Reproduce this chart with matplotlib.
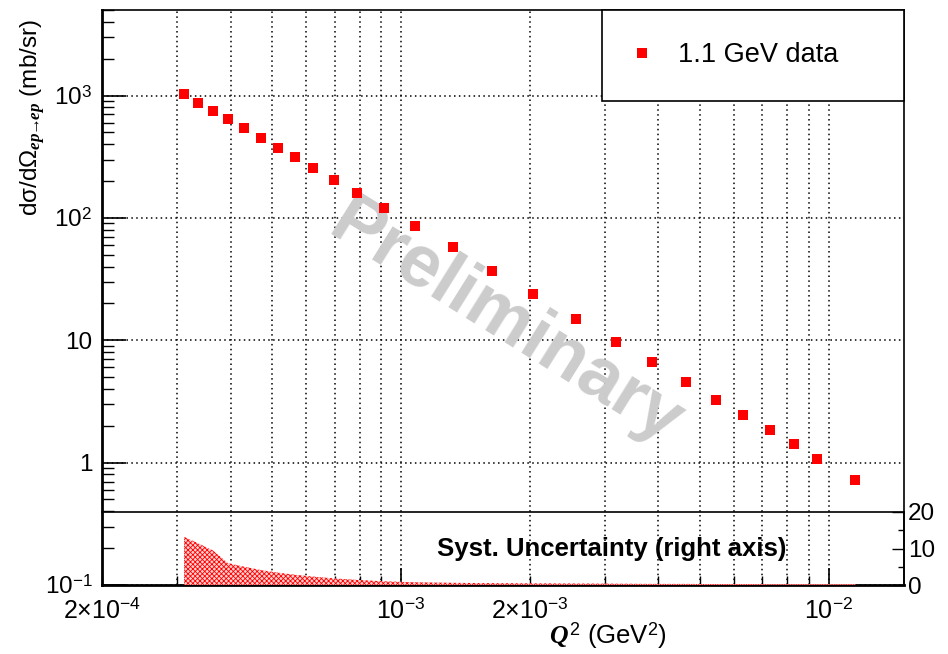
import numpy as np
import matplotlib
matplotlib.use("Agg")
import matplotlib.pyplot as plt
from matplotlib.ticker import FixedLocator, FixedFormatter, FuncFormatter, NullFormatter

plt.rcParams['font.family'] = ['Liberation Sans', 'DejaVu Sans']
plt.rcParams['mathtext.fontset'] = 'custom'
plt.rcParams['mathtext.rm'] = 'Liberation Sans'
plt.rcParams['mathtext.it'] = 'Liberation Serif:italic:bold'
plt.rcParams['mathtext.bf'] = 'Liberation Sans:bold'
plt.rcParams['hatch.linewidth'] = 0.6

# data
q2 = [3.11e-4, 3.36e-4, 3.64e-4, 3.94e-4, 4.30e-4, 4.70e-4, 5.15e-4, 5.65e-4,
      6.24e-4, 6.98e-4, 7.90e-4, 9.12e-4, 1.076e-3, 1.32e-3, 1.633e-3, 2.04e-3,
      2.57e-3, 3.19e-3, 3.87e-3, 4.63e-3, 5.44e-3, 6.32e-3, 7.28e-3, 8.28e-3,
      9.37e-3, 1.155e-2]
xsec = [1030, 877, 754, 641, 542, 452, 374, 314, 255, 204, 160, 120, 86.3,
        57.4, 37.0, 24.0, 15.0, 9.70, 6.61, 4.60, 3.28, 2.43, 1.84, 1.41,
        1.08, 0.72]
syst = [13.2, 11.4, 9.4, 6.0, 5.0, 4.1, 3.4, 2.8, 2.3, 1.8, 1.4, 1.0, 0.75,
        0.6, 0.5, 0.45, 0.4, 0.35, 0.3, 0.3, 0.25, 0.25, 0.2, 0.2, 0.2, 0.2]

xlim = (2e-4, 1.5e-2)
ylim = (0.1, 5000)
x_major = [1e-3, 1e-2]
x_major_labels = [r'$10^{-3}$', r'$10^{-2}$']
x_extra = [2e-4, 2e-3]
x_extra_labels = [r'$2{\times}10^{-4}$', r'$2{\times}10^{-3}$']
y_major = [0.1, 1, 10, 100, 1000]
y_major_labels = [r'$10^{-1}$', '1', '10', r'$10^{2}$', r'$10^{3}$']
syst_ticks = [0, 10, 20]
syst_minor = [5, 15]

W, H = 948, 654
L, R, T, B = 102, 904, 10, 585
fig = plt.figure(figsize=(W / 100, H / 100), dpi=100)
ax = fig.add_axes([L / W, 1 - B / H, (R - L) / W, (B - T) / H])
ax.set_xscale('log')
ax.set_yscale('log')
ax.set_xlim(*xlim)
ax.set_ylim(*ylim)

ax.plot(q2, xsec, 's', color='red', ms=7.2, mew=0, label='1.1 GeV data', zorder=3)

# ticks, ROOT style
minor_x = [m * 10.0**e for e in (-4, -3, -2) for m in range(2, 10)]
minor_x = [v for v in minor_x if xlim[0] <= v <= xlim[1]]
ax.xaxis.set_major_locator(FixedLocator(x_major))
ax.xaxis.set_major_formatter(FixedFormatter(x_major_labels))
ax.xaxis.set_minor_locator(FixedLocator(minor_x))
extra = dict(zip(x_extra, x_extra_labels))


def minor_fmt(v, pos):
    for k, s in extra.items():
        if np.isclose(v, k, rtol=1e-6):
            return s
    return ''


ax.xaxis.set_minor_formatter(FuncFormatter(minor_fmt))
minor_y = [m * 10.0**e for e in (-1, 0, 1, 2, 3) for m in range(2, 10)]
minor_y = [v for v in minor_y if ylim[0] <= v <= ylim[1]]
ax.yaxis.set_major_locator(FixedLocator(y_major))
ax.yaxis.set_major_formatter(FixedFormatter(y_major_labels))
ax.yaxis.set_minor_locator(FixedLocator(minor_y))
ax.yaxis.set_minor_formatter(NullFormatter())

ax.tick_params(axis='x', which='major', direction='in', length=12.4, width=1.2,
               labelsize=18, pad=9.5)
ax.tick_params(axis='x', which='minor', direction='in', length=6.2, width=1.0,
               labelsize=18, pad=9.5)
ax.tick_params(axis='y', which='major', direction='in', length=17, width=1.2,
               labelsize=17.5, pad=7)
ax.tick_params(axis='y', which='minor', direction='in', length=8.6, width=1.0)

grid_style = dict(color='black', lw=1.1, ls=(0, (1, 2.2)))
ax.grid(True, axis='x', which='both', **grid_style)
ax.grid(True, axis='y', which='major', **grid_style)

for side in ('left', 'bottom'):
    ax.spines[side].set_linewidth(2.0)
for side in ('top', 'right'):
    ax.spines[side].set_linewidth(1.2)

ax.text(0.503, 0.455, 'Preliminary', transform=ax.transAxes, rotation=-32,
        ha='center', va='center', fontsize=53, fontweight='bold',
        color='#cccccc', zorder=1.8)

leg = ax.legend(loc='upper right', bbox_to_anchor=(0.6234, 0.0, 0.3766, 1.0),
                mode='expand', borderaxespad=0, fontsize=19.5, numpoints=1,
                borderpad=1.2, handlelength=0.55, handletextpad=1.05,
                fancybox=False, framealpha=1, edgecolor='black')
leg.get_frame().set_linewidth(1.2)

# systematic uncertainty pad
axs = fig.add_axes([L / W, 1 - B / H, (R - L) / W, 73 / H])
axs.set_xscale('log')
axs.set_xlim(*xlim)
axs.set_ylim(0, 20)
axs.patch.set_alpha(0)
axs.fill_between(q2, syst, 0, facecolor='#ffd0d0', edgecolor='red',
                 hatch='xxxxxxx', lw=0)
axs.tick_params(axis='x', which='both', bottom=False, labelbottom=False)
axs.yaxis.tick_right()
axs.yaxis.set_major_locator(FixedLocator(syst_ticks))
axs.yaxis.set_minor_locator(FixedLocator(syst_minor))
axs.tick_params(axis='y', which='major', direction='in', length=8.6, width=1.0,
                labelsize=17.5, pad=3)
axs.tick_params(axis='y', which='minor', direction='in', length=4.5, width=1.0)
axs.spines['left'].set_visible(False)
axs.spines['bottom'].set_visible(False)
axs.spines['top'].set_linewidth(1.2)
axs.spines['right'].set_linewidth(1.2)
axs.text(0.636, 0.49, 'Syst. Uncertainty (right axis)', transform=axs.transAxes,
         ha='center', va='center', fontsize=18.5, fontweight='bold')

fig.text(33 / W, 1 - 118 / H,
         r'd$\mathrm{\sigma}$/d$\Omega_{\mathit{ep\!\!\rightarrow\!\!ep}}$ (mb/sr)',
         rotation=90, ha='center', va='center', fontsize=17.5)
fig.text(608 / W, 1 - 636 / H, r'$\mathit{Q^{2}}$ (GeV$^{2}$)',
         ha='center', va='center', fontsize=18.5)

fig.savefig('out.png', dpi=100)
